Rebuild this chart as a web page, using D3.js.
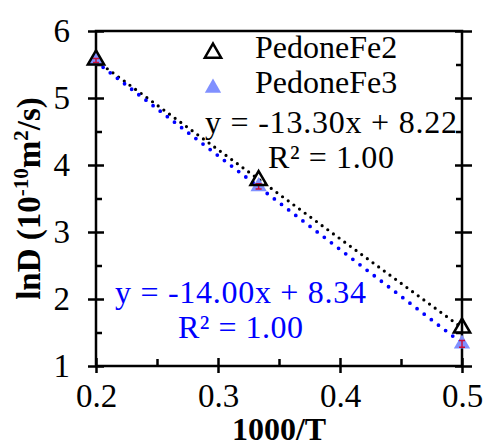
<!DOCTYPE html>
<html>
<head>
<meta charset="utf-8">
<script src="https://cdn.jsdelivr.net/npm/d3@7"></script>
<style>
  body { margin: 0; background: #fff; }
</style>
</head>
<body>
<svg class="chart"></svg>
<script>
//-----------------------------------------------------------------------
// lnD vs 1000/T, two Pedone runs with linear fits
//-----------------------------------------------------------------------
const width = 484
const height = 446
const margin = ({top: 31, right: 22, bottom: 80, left: 96})
const serif = 'Liberation Serif'

// data
const invT = [0.2, 0.3333, 0.5]
const fe2 = [5.57, 3.77, 1.57]
const fe3 = [5.56, 3.68, 1.33]
const fe3Err = [0.03, 0.04, 0.05]
const seriesNames = ['PedoneFe2', 'PedoneFe3']
const fitSlopes = [-13.30, -14.00]
const fitIntercepts = [8.22, 8.34]
const fitR2 = ['1.00', '1.00']

const xTicks = [0.2, 0.3, 0.4, 0.5]
const xMinor = [0.25, 0.35, 0.45]
const yTicks = [1, 2, 3, 4, 5, 6]
const yMinor = [1.5, 2.5, 3.5, 4.5, 5.5]

const svg = d3.select('svg.chart')
  .attr('width', width)
  .attr('height', height)

const x = d3.scaleLinear().domain([0.2, 0.5]).range([margin.left, width - margin.right])
const y = d3.scaleLinear().domain([1, 6]).range([height - margin.bottom, margin.top])

const x0 = x(0.2), x1 = x(0.5), y0 = y(1), y1 = y(6)

// ---- axes ----
function tidy(g) {
  g.selectAll('.domain').remove()
  g.selectAll('line').attr('stroke', '#000').attr('stroke-width', 2.5)
}

// bottom
svg.append('g')
  .attr('transform', `translate(0, ${y0})`)
  .call(d3.axisBottom(x).tickValues(xTicks).tickSize(8).tickFormat(d3.format('.1f')))
  .call(tidy)
  .call(g => g.selectAll('line').attr('y1', -8).attr('y2', 7))
  .call(g => g.selectAll('text')
    .attr('y', 41).attr('dy', 0)
    .attr('font-family', serif)
    .attr('font-size', 33).attr('fill', '#000'))

svg.append('g')
  .attr('transform', `translate(0, ${y0})`)
  .call(d3.axisBottom(x).tickValues(xMinor).tickSize(-7).tickFormat(''))
  .call(tidy)

// left
svg.append('g')
  .attr('transform', `translate(${x0}, 0)`)
  .call(d3.axisLeft(y).tickValues(yTicks).tickSize(8).tickFormat(d3.format('d')))
  .call(tidy)
  .call(g => g.selectAll('line').attr('x1', -8).attr('x2', 8))
  .call(g => g.selectAll('text')
    .attr('x', -26).attr('dy', 0).attr('y', 10)
    .attr('font-family', serif)
    .attr('font-size', 33).attr('fill', '#000'))

svg.append('g')
  .attr('transform', `translate(${x0}, 0)`)
  .call(d3.axisLeft(y).tickValues(yMinor).tickSize(-6).tickFormat(''))
  .call(tidy)

// right
svg.append('g')
  .attr('transform', `translate(${x1}, 0)`)
  .call(d3.axisRight(y).tickValues(yTicks).tickSize(9).tickFormat(''))
  .call(tidy)
  .call(g => g.selectAll('line').attr('x1', -7).attr('x2', 10))

svg.append('g')
  .attr('transform', `translate(${x1}, 0)`)
  .call(d3.axisRight(y).tickValues(yMinor).tickSize(-6).tickFormat(''))
  .call(tidy)

// frame
svg.append('rect')
  .attr('x', x0).attr('y', y1)
  .attr('width', x1 - x0).attr('height', y0 - y1)
  .attr('fill', 'none').attr('stroke', '#000').attr('stroke-width', 2.5)

// axis titles
svg.append('text')
  .attr('x', (x0 + x1) / 2).attr('y', 440)
  .attr('text-anchor', 'middle')
  .attr('font-family', serif)
  .attr('font-size', 32).attr('font-weight', 'bold')
  .text('1000/T')

const yTitle = svg.append('text')
  .attr('transform', `translate(40, ${(y0 + y1) / 2}) rotate(-90)`)
  .attr('text-anchor', 'middle')
  .attr('font-family', serif)
  .attr('font-size', 33).attr('font-weight', 'bold')
yTitle.append('tspan').text('lnD (10')
yTitle.append('tspan').attr('dy', -12).attr('font-size', 21).text('-10')
yTitle.append('tspan').attr('dy', 12).text('m')
yTitle.append('tspan').attr('dy', -12).attr('font-size', 21).text('2')
yTitle.append('tspan').attr('dy', 12).text('/s)')

// ---- fit lines ----
const fitColors = ['#000', '#0000ff']
const fitDash = ['0 7', '0 9']
const fitWidth = [3.2, 3.8]
const line = d3.line().x(d => x(d[0])).y(d => y(d[1]))

fitSlopes.forEach((m, i) => {
  const pts = [0.2, 0.5].map(t => [t, m * t + fitIntercepts[i]])
  svg.append('path')
    .attr('d', line(pts))
    .attr('fill', 'none')
    .attr('stroke', fitColors[i])
    .attr('stroke-width', fitWidth[i])
    .attr('stroke-linecap', 'round')
    .attr('stroke-dasharray', fitDash[i])
})

// ---- points ----
const tri = d3.symbol().type(d3.symbolTriangle).size(115)

svg.append('g').selectAll('path')
  .data(invT.map((t, i) => [t, fe3[i]]))
  .join('path')
  .attr('transform', d => `translate(${x(d[0])}, ${y(d[1])})`)
  .attr('d', tri)
  .attr('fill', '#8090ff')

// small error bars
svg.append('g').selectAll('path')
  .data(invT.map((t, i) => [t, fe3[i], fe3Err[i]]))
  .join('path')
  .attr('d', d => {
    const cx = x(d[0]), ya = y(d[1] + d[2]), yb = y(d[1] - d[2])
    return `M${cx - 3},${ya}H${cx + 3}M${cx},${ya}V${yb}M${cx - 3},${yb}H${cx + 3}`
  })
  .attr('fill', 'none')
  .attr('stroke', '#c8103c')
  .attr('stroke-width', 1.5)

svg.append('g').selectAll('path')
  .data(invT.map((t, i) => [t, fe2[i]]))
  .join('path')
  .attr('transform', d => `translate(${x(d[0])}, ${y(d[1])})`)
  .attr('d', tri)
  .attr('fill', 'none')
  .attr('stroke', '#000')
  .attr('stroke-width', 2.5)

// ---- legend ----
const legendY = [53, 88]
seriesNames.forEach((name, i) => {
  svg.append('path')
    .attr('transform', `translate(213, ${legendY[i]})`)
    .attr('d', tri)
    .attr('fill', i === 0 ? 'none' : '#8090ff')
    .attr('stroke', i === 0 ? '#000' : 'none')
    .attr('stroke-width', 2.5)
  svg.append('text')
    .attr('x', 255).attr('y', legendY[i] + 5)
    .attr('font-family', serif)
    .attr('font-size', 32)
    .text(name)
})

// ---- fit equations ----
const eqPos = [
  {cx: 331, y1: 133, y2: 168, w1: 252, w2: 126},
  {cx: 240.5, y1: 303, y2: 338, w1: 251, w2: 125}
]
fitSlopes.forEach((m, i) => {
  const p = eqPos[i]
  svg.append('text')
    .attr('x', p.cx - p.w1 / 2).attr('y', p.y1)
    .attr('font-family', serif)
    .attr('font-size', 32).attr('fill', fitColors[i])
    .attr('textLength', p.w1).attr('lengthAdjust', 'spacing')
    .text(`y = ${m.toFixed(2)}x + ${fitIntercepts[i].toFixed(2)}`)
  svg.append('text')
    .attr('x', p.cx - p.w2 / 2).attr('y', p.y2)
    .attr('font-family', serif)
    .attr('font-size', 32).attr('fill', fitColors[i])
    .attr('textLength', p.w2).attr('lengthAdjust', 'spacing')
    .text(`R² = ${fitR2[i]}`)
})
</script>
</body>
</html>
